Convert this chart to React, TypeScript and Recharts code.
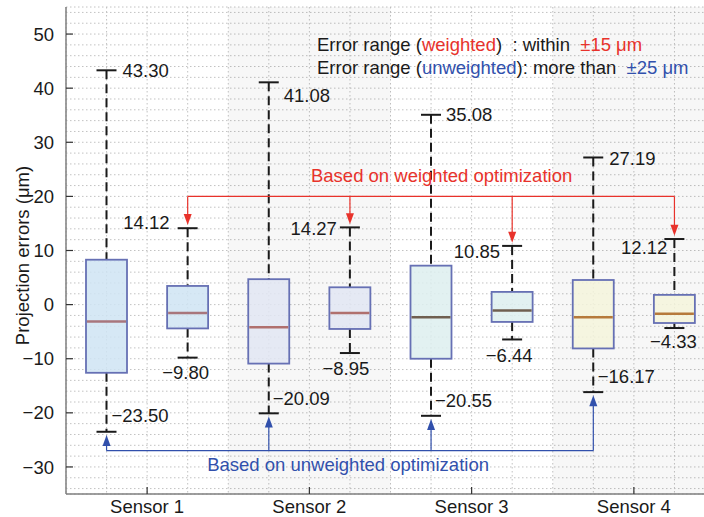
import React from "react";
import { ComposedChart, Bar, XAxis, YAxis, CartesianGrid, ReferenceArea, ReferenceLine, ReferenceDot } from "recharts";

const sensorNames = ["Sensor 1", "Sensor 2", "Sensor 3", "Sensor 4"];
const sensorTicks = [1, 2, 3, 4];

// u = unweighted (left of each sensor), w = weighted (right)
const boxKeys = ["S1u", "S1w", "S2u", "S2w", "S3u", "S3w", "S4u", "S4w"];
const q1Values = [-12.6, -4.4, -10.9, -4.5, -10.0, -3.2, -8.1, -3.4];
const medianValues = [-3.1, -1.55, -4.2, -1.55, -2.35, -1.1, -2.35, -1.7];
const q3Values = [8.3, 3.45, 4.7, 3.2, 7.2, 2.35, 4.55, 1.8];
const whiskerLow = [-23.5, -9.8, -20.09, -8.95, -20.55, -6.44, -16.17, -4.33];
const whiskerHigh = [43.3, 14.12, 41.08, 14.27, 35.08, 10.85, 27.19, 12.12];

const weightedLevel = 20;
const unweightedLevel = -27;
const arrowGap = 0.6;

// minor grid: every 0.25 on x, every 2 on y
const xGridTicks = Array.from({ length: 17 }, (_, i) => 0.5 + i * 0.25);
const yGridTicks = Array.from({ length: 45 }, (_, i) => -34 + i * 2);

const RED = "#e8322b";
const BLUE = "#3150ac";
const FONT = "'Liberation Sans', Arial, sans-serif";
const FS = 18.5;

const sensorFill = ["#cfe4f3", "#e2e6f3", "#ddeeee", "#f5f5dc"];
const sensorMedian = ["#a8767c", "#b0706e", "#6f5f50", "#b67a3c"];

const highLabelLayout = [
  { dx: 16, dy: 0, anchor: "start" },
  { dx: -18, dy: -6, anchor: "end" },
  { dx: 15, dy: 13, anchor: "start" },
  { dx: -13, dy: 1, anchor: "end" },
  { dx: 15, dy: 0, anchor: "start" },
  { dx: -12, dy: 5, anchor: "end" },
  { dx: 16, dy: 1, anchor: "start" },
  { dx: -7, dy: 8, anchor: "end" },
];
const lowLabelLayout = [
  { dx: 5, dy: -16, anchor: "start" },
  { dx: -2, dy: 15, anchor: "middle" },
  { dx: 4, dy: -15, anchor: "start" },
  { dx: -4, dy: 15, anchor: "middle" },
  { dx: 4, dy: -15, anchor: "start" },
  { dx: -3, dy: 16, anchor: "middle" },
  { dx: 4.5, dy: -16, anchor: "start" },
  { dx: -1, dy: 13, anchor: "middle" },
];

const boxes = boxKeys.map((key, i) => ({
  key,
  idx: i,
  sensor: Math.floor(i / 2),
  pos: Math.floor(i / 2) + 1 + (i % 2 === 0 ? -0.25 : 0.25),
  q1: q1Values[i],
  median: medianValues[i],
  q3: q3Values[i],
  low: whiskerLow[i],
  high: whiskerHigh[i],
}));
const weightedBoxes = boxes.filter((b) => b.idx % 2 === 1);
const unweightedBoxes = boxes.filter((b) => b.idx % 2 === 0);

const fmt = (v: number) => (v < 0 ? "\u2212" : "") + Math.abs(v).toFixed(2);
const fmtTick = (v: number) => (v < 0 ? "\u2212" : "") + Math.abs(v);

const BoxShape = (props: any) => {
  const { x, y, width, height, payload } = props;
  const p = payload;
  // value -> pixel, derived from the bar the library placed for [q1, q3]
  const pix = (v: number) => y + ((p.q3 - v) / (p.q3 - p.q1)) * height;
  const cx = x + width / 2;
  const yHigh = pix(p.high);
  const yLow = pix(p.low);
  const hl = highLabelLayout[p.idx];
  const ll = lowLabelLayout[p.idx];
  return (
    <g>
      <line x1={cx} x2={cx} y1={yHigh} y2={y} stroke="#1a1a1a" strokeWidth={2} strokeDasharray="9 5" />
      <line x1={cx} x2={cx} y1={y + height} y2={yLow} stroke="#1a1a1a" strokeWidth={2} strokeDasharray="9 5" />
      <line x1={cx - 10} x2={cx + 10} y1={yHigh} y2={yHigh} stroke="#1a1a1a" strokeWidth={2} />
      <line x1={cx - 10} x2={cx + 10} y1={yLow} y2={yLow} stroke="#1a1a1a" strokeWidth={2} />
      <rect x={x} y={y} width={width} height={height} fill={sensorFill[p.sensor]} fillOpacity={0.85} stroke="#6670b4" strokeWidth={1.8} />
      <line x1={x + 1} x2={x + width - 1} y1={pix(p.median)} y2={pix(p.median)} stroke={sensorMedian[p.sensor]} strokeWidth={2.5} />
      <text x={cx + hl.dx} y={yHigh + hl.dy + 6.6} textAnchor={hl.anchor} fontSize={FS} fontFamily={FONT} fill="#1a1a1a">
        {fmt(p.high)}
      </text>
      <text x={cx + ll.dx} y={yLow + ll.dy + 6.6} textAnchor={ll.anchor} fontSize={FS} fontFamily={FONT} fill="#1a1a1a">
        {fmt(p.low)}
      </text>
    </g>
  );
};

const YTick = (props: any) => {
  const { x, y, payload } = props;
  const v = payload.value;
  if (v % 10 !== 0) return <g />;
  return (
    <g>
      <line x1={x} x2={x + 7} y1={y} y2={y} stroke="#333" strokeWidth={1.2} />
      <text x={x - 12} y={y + 6.6} textAnchor="end" fontSize={FS} fontFamily={FONT} fill="#1a1a1a">
        {fmtTick(v)}
      </text>
    </g>
  );
};

const BottomTick = (props: any) => {
  const { x, y, payload } = props;
  const v = payload.value;
  if (!Number.isInteger(v)) return <g />;
  return (
    <g>
      <line x1={x} x2={x} y1={y} y2={y - 7} stroke="#333" strokeWidth={1.2} />
      <text x={x} y={y + 19} textAnchor="middle" fontSize={FS} fontFamily={FONT} fill="#1a1a1a">
        {sensorNames[v - 1]}
      </text>
    </g>
  );
};

const TopTick = (props: any) => {
  const { x, y } = props;
  return <line x1={x} x2={x} y1={y} y2={y + 7} stroke="#333" strokeWidth={1.2} />;
};

const arrowDown = (color: string) => (p: any) => (
  <path d={`M${p.cx},${p.cy} L${p.cx - 4},${p.cy - 11} L${p.cx + 4},${p.cy - 11} Z`} fill={color} />
);
const arrowUp = (color: string) => (p: any) => (
  <path d={`M${p.cx},${p.cy} L${p.cx - 4},${p.cy + 11} L${p.cx + 4},${p.cy + 11} Z`} fill={color} />
);

const textShape = (render: (cx: number, cy: number) => React.ReactElement) => (p: any) => render(p.cx, p.cy);

export default function App() {
  return (
    <div style={{ position: "absolute", left: 0, top: 0, width: 704, height: 517, overflow: "hidden", background: "#fff" }}>
      <ComposedChart width={720} height={517} data={boxes} margin={{ top: 7, right: 5, left: 10, bottom: 0 }}>
        <ReferenceArea x1={1.5} x2={2.5} y1={-35} y2={55} fill="#000" fillOpacity={0.03} stroke="none" />
        <ReferenceArea x1={3.5} x2={4.5} y1={-35} y2={55} fill="#000" fillOpacity={0.03} stroke="none" />
        <CartesianGrid stroke="#c2c2c2" strokeDasharray="1.5 2.5" />
        <XAxis
          dataKey="pos"
          type="number"
          domain={[0.5, 4.5]}
          ticks={xGridTicks}
          interval={0}
          allowDataOverflow
          height={23}
          tickSize={0}
          tickMargin={0}
          tickLine={false}
          tick={<BottomTick />}
          axisLine={{ stroke: "#7f7f7f", strokeWidth: 1.5 }}
        />
        <XAxis
          xAxisId="top"
          dataKey="pos"
          orientation="top"
          type="number"
          domain={[0.5, 4.5]}
          ticks={sensorTicks}
          allowDataOverflow
          height={0}
          tickSize={0}
          tickMargin={0}
          tickLine={false}
          tick={<TopTick />}
          axisLine={{ stroke: "#7f7f7f", strokeWidth: 1.5 }}
        />
        <YAxis
          type="number"
          domain={[-35, 55]}
          ticks={yGridTicks}
          interval={0}
          allowDataOverflow
          width={56}
          tickSize={0}
          tickMargin={0}
          tickLine={false}
          tick={<YTick />}
          axisLine={{ stroke: "#7f7f7f", strokeWidth: 1.5 }}
          label={{
            content: (lp: any) => {
              const vb = lp.viewBox;
              const cx = vb.x + 12;
              const cy = vb.y + vb.height / 2 + 5;
              return (
                <text x={cx} y={cy} transform={`rotate(-90 ${cx} ${cy})`} textAnchor="middle" dominantBaseline="central" fontSize={FS} fontFamily={FONT} fill="#1a1a1a">
                  Projection errors (μm)
                </text>
              );
            },
          }}
        />
        <Bar dataKey={(d: any) => [d.q1, d.q3]} barSize={41} shape={<BoxShape />} isAnimationActive={false} />

        {/* weighted arrows */}
        <ReferenceLine
          segment={[{ x: weightedBoxes[0].pos, y: weightedLevel }, { x: weightedBoxes[3].pos, y: weightedLevel }]}
          stroke={RED}
          strokeWidth={1.2}
        />
        {weightedBoxes.map((b) => {
          const tip = b.high + arrowGap;
          return (
            <React.Fragment key={b.key}>
              <ReferenceLine segment={[{ x: b.pos, y: weightedLevel }, { x: b.pos, y: tip + 1.5 }]} stroke={RED} strokeWidth={1.2} />
              <ReferenceDot x={b.pos} y={tip} shape={arrowDown(RED)} />
            </React.Fragment>
          );
        })}

        {/* unweighted arrows */}
        <ReferenceLine
          segment={[{ x: unweightedBoxes[0].pos, y: unweightedLevel }, { x: unweightedBoxes[3].pos, y: unweightedLevel }]}
          stroke={BLUE}
          strokeWidth={1.2}
        />
        {unweightedBoxes.map((b) => {
          const tip = b.low - arrowGap;
          return (
            <React.Fragment key={b.key}>
              <ReferenceLine segment={[{ x: b.pos, y: unweightedLevel }, { x: b.pos, y: tip - 1.5 }]} stroke={BLUE} strokeWidth={1.2} />
              <ReferenceDot x={b.pos} y={tip} shape={arrowUp(BLUE)} />
            </React.Fragment>
          );
        })}

        <ReferenceDot
          x={2.01}
          y={22.7}
          shape={textShape((cx, cy) => (
            <text x={cx} y={cy} fontSize={FS} fontFamily={FONT} fill={RED}>
              Based on weighted optimization
            </text>
          ))}
        />
        <ReferenceDot
          x={1.37}
          y={-30.8}
          shape={textShape((cx, cy) => (
            <text x={cx} y={cy} fontSize={FS} fontFamily={FONT} fill={BLUE}>
              Based on unweighted optimization
            </text>
          ))}
        />
        <ReferenceDot
          x={2.047}
          y={46.8}
          shape={textShape((cx, cy) => (
            <text x={cx} y={cy} fontSize={FS} fontFamily={FONT} fill="#1a1a1a" style={{ whiteSpace: "pre" }}>
              <tspan x={cx} y={cy}>
                Error range (<tspan fill={RED}>weighted</tspan>{")  : within  "}<tspan fill={RED}>±15 μm</tspan>
              </tspan>
              <tspan x={cx} y={cy + 22.3}>
                Error range (<tspan fill={BLUE}>unweighted</tspan>{"): more than  "}<tspan fill={BLUE}>±25 μm</tspan>
              </tspan>
            </text>
          ))}
        />
      </ComposedChart>
    </div>
  );
}
